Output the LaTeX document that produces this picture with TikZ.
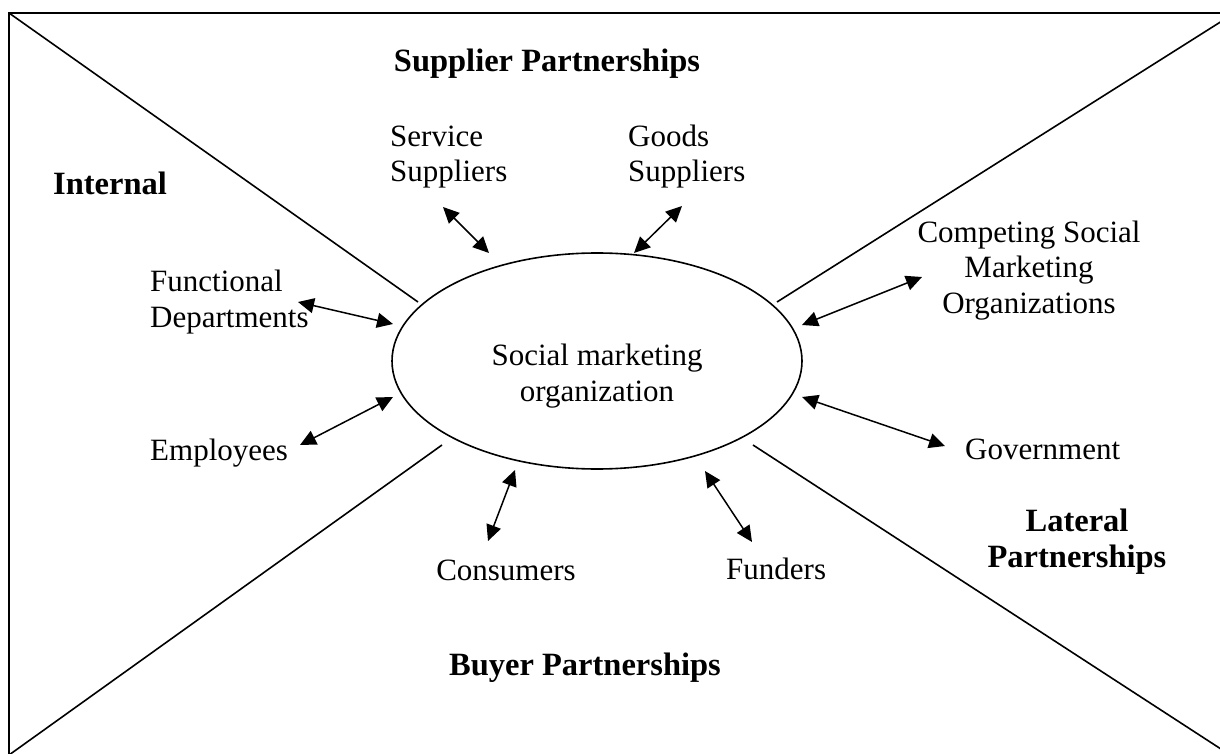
\documentclass[tikz,border=0pt]{standalone}
\usepackage{fontspec}
\setmainfont{Liberation Serif}
\usetikzlibrary{arrows.meta,shapes.geometric}
\begin{document}
\begin{tikzpicture}[x=1pt,y=-1pt,
  lbl/.style={font=\fontsize{31}{35.5}\selectfont, inner sep=0pt},
  blbl/.style={font=\fontsize{32.5}{36}\selectfont\bfseries, inner sep=0pt},
  divider/.style={line width=1.6pt},
  link/.style={line width=1.5pt, {Triangle[length=16pt,width=15pt]}-{Triangle[length=16pt,width=15pt]}}
]
\useasboundingbox (0,0) rectangle (1220,754);
\clip (0,0) rectangle (1220,754);
% frame
\draw[line width=1.8pt] (9,13) rectangle (1226,760);
% central organization
\node[ellipse, draw, line width=1.6pt, minimum width=410pt, minimum height=216pt, inner sep=0pt] (org) at (597,361) {};
\node[lbl, align=center, anchor=base] (orgtext) at (597,401) {Social marketing\\organization};
% dividers
\coordinate (tl) at (9,13);
\coordinate (tlin) at (418,302);
\coordinate (tr) at (1222,21);
\coordinate (trin) at (777,302);
\coordinate (bl) at (9,755);
\coordinate (blin) at (442,445);
\coordinate (br) at (1224,751);
\coordinate (brin) at (753,445);
\draw[divider] (tl) -- (tlin);
\draw[divider] (tr) -- (trin);
\draw[divider] (bl) -- (blin);
\draw[divider] (br) -- (brin);
% labels
\node[blbl, anchor=base] (sup) at (547,72) {Supplier Partnerships};
\node[lbl, align=left, anchor=base west] (svc) at (390,182) {Service\\Suppliers};
\node[lbl, align=left, anchor=base west] (goods) at (628,182) {Goods\\Suppliers};
\node[blbl, anchor=base west] (internal) at (53,194) {Internal};
\node[lbl, align=left, anchor=base west] (func) at (150,327) {Functional\\Departments};
\node[lbl, anchor=base west] (emp) at (150,460) {Employees};
\node[lbl, align=center, anchor=base] (comp) at (1029,313) {Competing Social\\Marketing\\Organizations};
\node[lbl, anchor=base west] (gov) at (965,459) {Government};
\node[blbl, align=center, anchor=base] (lat) at (1077,567) {Lateral\\Partnerships};
\node[lbl, anchor=base] (cons) at (506,580) {Consumers};
\node[lbl, anchor=base west] (fund) at (726,579) {Funders};
\node[blbl, anchor=base] (buyer) at (585,675) {Buyer Partnerships};
% arrow end points
\coordinate (svcA) at (443,207);  \coordinate (svcB) at (489,253);
\coordinate (goodsA) at (682,206); \coordinate (goodsB) at (634,253);
\coordinate (funcA) at (298,302); \coordinate (funcB) at (393,324);
\coordinate (empA) at (300,445); \coordinate (empB) at (393,397);
\coordinate (compA) at (922,277); \coordinate (compB) at (802,325);
\coordinate (govA) at (945,446); \coordinate (govB) at (802,397);
\coordinate (consA) at (488,541); \coordinate (consB) at (515,470);
\coordinate (fundA) at (752,542); \coordinate (fundB) at (705,471);
\draw[link] (svcA) -- (svcB);
\draw[link] (goodsA) -- (goodsB);
\draw[link] (funcA) -- (funcB);
\draw[link] (empA) -- (empB);
\draw[link] (compA) -- (compB);
\draw[link] (govA) -- (govB);
\draw[link] (consA) -- (consB);
\draw[link] (fundA) -- (fundB);
\end{tikzpicture}
\end{document}
